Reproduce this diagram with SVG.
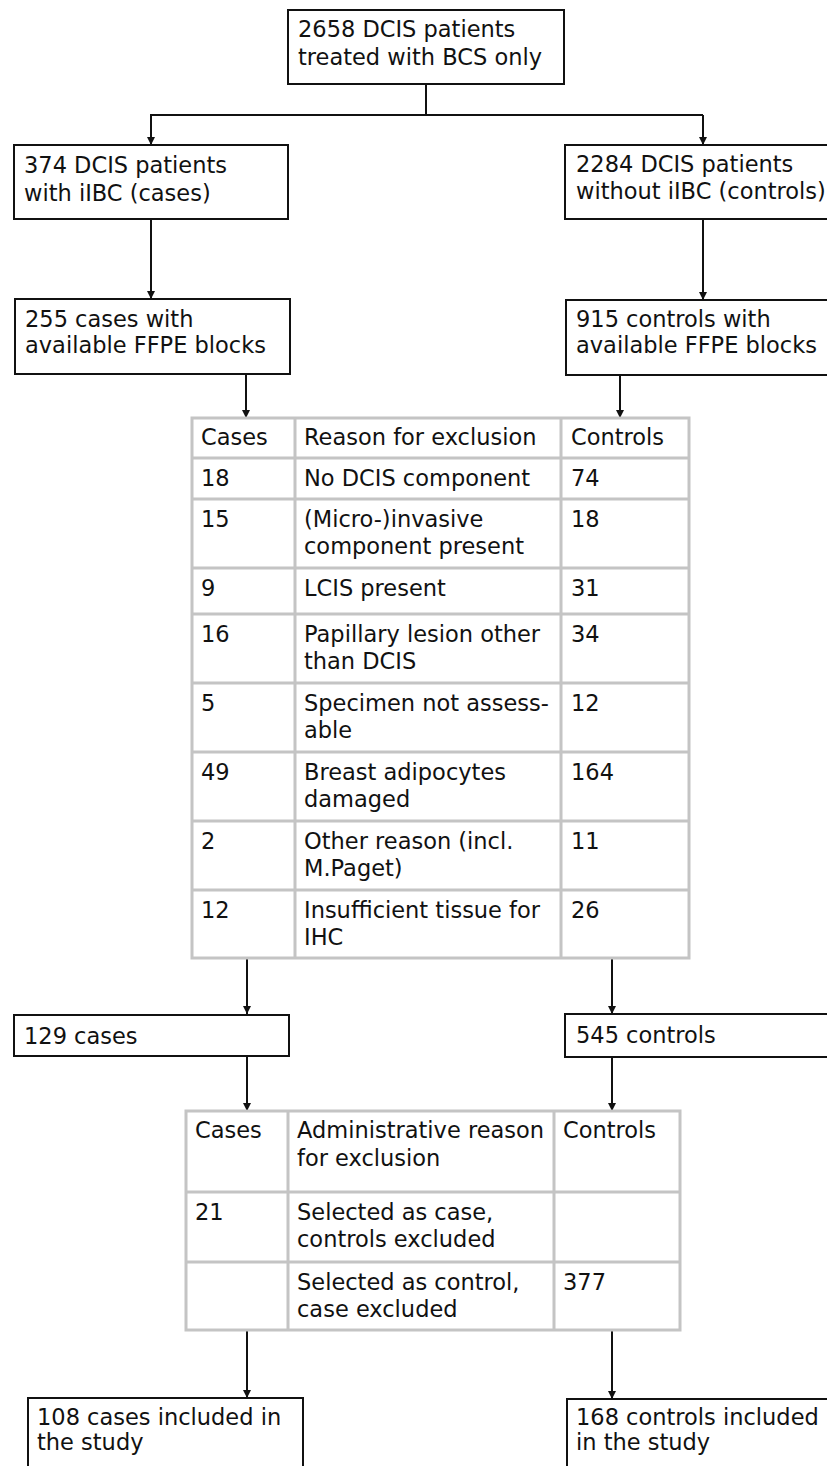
<svg xmlns="http://www.w3.org/2000/svg" width="827" height="1466" viewBox="0 0 827 1466">
<style>
text{font-family:"DejaVu Sans",Verdana,sans-serif;font-size:22.5px;fill:#111}
.box{fill:#fff;stroke:#111;stroke-width:2}
.conn{stroke:#111;stroke-width:2;fill:none}
.tbl{fill:#fff;stroke:#c4c4c4;stroke-width:3}
.grid{stroke:#c4c4c4;stroke-width:3}
</style>
<defs>
<marker id="ah" viewBox="0 0 10 10" refX="10" refY="5" markerWidth="8" markerHeight="8" markerUnits="userSpaceOnUse" orient="auto">
<path d="M0,0 L10,5 L0,10 z" fill="#111"/>
</marker>
</defs>
<rect width="827" height="1466" fill="#fff"/>
<g id="connectors">
<path class="conn" d="M426,84 V115 M150,115 H703"/>
<path class="conn" d="M151,115 V145" marker-end="url(#ah)"/>
<path class="conn" d="M703,115 V145" marker-end="url(#ah)"/>
<path class="conn" d="M151,219 V299" marker-end="url(#ah)"/>
<path class="conn" d="M703,219 V300" marker-end="url(#ah)"/>
<path class="conn" d="M246,375 V418" marker-end="url(#ah)"/>
<path class="conn" d="M620,376 V418" marker-end="url(#ah)"/>
<path class="conn" d="M247,959 V1014" marker-end="url(#ah)"/>
<path class="conn" d="M612,959 V1014" marker-end="url(#ah)"/>
<path class="conn" d="M247,1056 V1111" marker-end="url(#ah)"/>
<path class="conn" d="M612,1057 V1111" marker-end="url(#ah)"/>
<path class="conn" d="M247,1331 V1398" marker-end="url(#ah)"/>
<path class="conn" d="M612,1331 V1399" marker-end="url(#ah)"/>
</g>
<g id="n-total">
<rect class="box" x="288" y="10" width="276" height="74"/>
<text x="298" y="37">2658 DCIS patients</text>
<text x="298" y="65">treated with BCS only</text>
</g>
<g id="n-cases">
<rect class="box" x="14" y="145" width="274" height="74"/>
<text x="24" y="173">374 DCIS patients</text>
<text x="24" y="201">with iIBC (cases)</text>
</g>
<g id="n-controls">
<rect class="box" x="565" y="145" width="280" height="74"/>
<text x="576" y="172">2284 DCIS patients</text>
<text x="576" y="199">without iIBC (controls)</text>
</g>
<g id="n-cases-ffpe">
<rect class="box" x="15" y="299" width="275" height="75"/>
<text x="25" y="327">255 cases with</text>
<text x="25" y="353">available FFPE blocks</text>
</g>
<g id="n-controls-ffpe">
<rect class="box" x="566" y="300" width="280" height="75"/>
<text x="576" y="327">915 controls with</text>
<text x="576" y="353">available FFPE blocks</text>
</g>
<g id="t-exclusion">
<rect class="tbl" x="192" y="418" width="497" height="540"/>
<path class="grid" d="M295,418 V958 M561,418 V958 M192,458 H689 M192,499 H689 M192,568 H689 M192,614 H689 M192,683 H689 M192,752 H689 M192,821 H689 M192,890 H689"/>
<text x="201" y="445">Cases</text>
<text x="304" y="445">Reason for exclusion</text>
<text x="571" y="445">Controls</text>
<text x="201" y="486">18</text>
<text x="304" y="486">No DCIS component</text>
<text x="571" y="486">74</text>
<text x="201" y="527">15</text>
<text x="304" y="527">(Micro-)invasive</text>
<text x="304" y="554">component present</text>
<text x="571" y="527">18</text>
<text x="201" y="596">9</text>
<text x="304" y="596">LCIS present</text>
<text x="571" y="596">31</text>
<text x="201" y="642">16</text>
<text x="304" y="642">Papillary lesion other</text>
<text x="304" y="669">than DCIS</text>
<text x="571" y="642">34</text>
<text x="201" y="711">5</text>
<text x="304" y="711">Specimen not assess-</text>
<text x="304" y="738">able</text>
<text x="571" y="711">12</text>
<text x="201" y="780">49</text>
<text x="304" y="780">Breast adipocytes</text>
<text x="304" y="807">damaged</text>
<text x="571" y="780">164</text>
<text x="201" y="849">2</text>
<text x="304" y="849">Other reason (incl.</text>
<text x="304" y="876">M.Paget)</text>
<text x="571" y="849">11</text>
<text x="201" y="918">12</text>
<text x="304" y="918">Insufficient tissue for</text>
<text x="304" y="945">IHC</text>
<text x="571" y="918">26</text>
</g>
<g id="n-129">
<rect class="box" x="14" y="1015" width="275" height="41"/>
<text x="24" y="1044">129 cases</text>
</g>
<g id="n-545">
<rect class="box" x="565" y="1014" width="280" height="43"/>
<text x="576" y="1043">545 controls</text>
</g>
<g id="t-admin">
<rect class="tbl" x="186" y="1111" width="494" height="219"/>
<path class="grid" d="M288,1111 V1330 M554,1111 V1330 M186,1192 H680 M186,1262 H680"/>
<text x="195" y="1138">Cases</text>
<text x="297" y="1138">Administrative reason</text>
<text x="297" y="1166">for exclusion</text>
<text x="563" y="1138">Controls</text>
<text x="195" y="1220">21</text>
<text x="297" y="1220">Selected as case,</text>
<text x="297" y="1247">controls excluded</text>
<text x="297" y="1290">Selected as control,</text>
<text x="297" y="1317">case excluded</text>
<text x="563" y="1290">377</text>
</g>
<g id="n-108">
<rect class="box" x="28" y="1398" width="275" height="100"/>
<text x="37" y="1425">108 cases included in</text>
<text x="37" y="1450">the study</text>
</g>
<g id="n-168">
<rect class="box" x="567" y="1399" width="280" height="100"/>
<text x="576" y="1425">168 controls included</text>
<text x="576" y="1450">in the study</text>
</g>
</svg>
